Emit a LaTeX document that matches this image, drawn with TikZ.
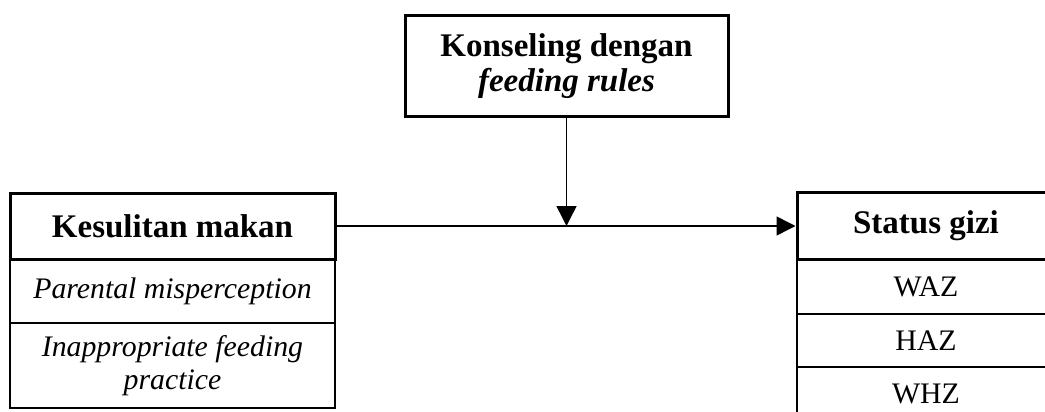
\documentclass[tikz,border=0pt]{standalone}
\usepackage{fontspec}
\setmainfont{Liberation Serif}
\usetikzlibrary{arrows.meta,calc}
\begin{document}
\begin{tikzpicture}[x=1pt,y=-1pt,
  headbox/.style={draw, line width=3pt, inner sep=0pt, align=center,
    font=\fontsize{33}{35}\selectfont\bfseries},
  rowbox/.style={draw, line width=1.5pt, inner sep=0pt, align=center,
    font=\fontsize{29.8}{33.5}\selectfont},
  conn/.style={line width=1.5pt},
  tipbig/.style={-{Triangle[length=20pt,width=20pt]}},
  tipsmall/.style={-{Triangle[length=19pt,width=19pt]}}]
\useasboundingbox (0,0) rectangle (1045,412);
% top box
\node[headbox, minimum width=323pt, minimum height=100pt] (top) at (566.5,66)
  {Konseling dengan\\\textit{feeding rules}};
% left box
\node[rowbox, minimum width=325pt, minimum height=64pt] (l1) at (172.5,291)
  {\itshape Parental misperception};
\node[rowbox, minimum width=325pt, minimum height=85pt] (l2) at (172.5,365.5)
  {\itshape Inappropriate feeding\\\itshape practice};
\node[headbox, minimum width=325pt, minimum height=66pt] (left) at (172.5,226)
  {Kesulitan makan};
% right box
\node[rowbox, minimum width=258pt, minimum height=54pt] (r1) at (926,287)
  {WAZ};
\node[rowbox, minimum width=258pt, minimum height=53pt] (r2) at (926,340.5)
  {HAZ};
\node[rowbox, minimum width=258pt, minimum height=54pt] (r3) at (926,394)
  {WHZ};
\node[headbox, minimum width=258pt, minimum height=67pt] (right) at (926,226)
  {Status gizi};
% connectors
\coordinate (m) at (top.south |- left.east);
\draw[conn, tipsmall] (left.east) -- (right.west);
\draw[conn, tipbig] (top.south) -- (m);
\end{tikzpicture}
\end{document}
